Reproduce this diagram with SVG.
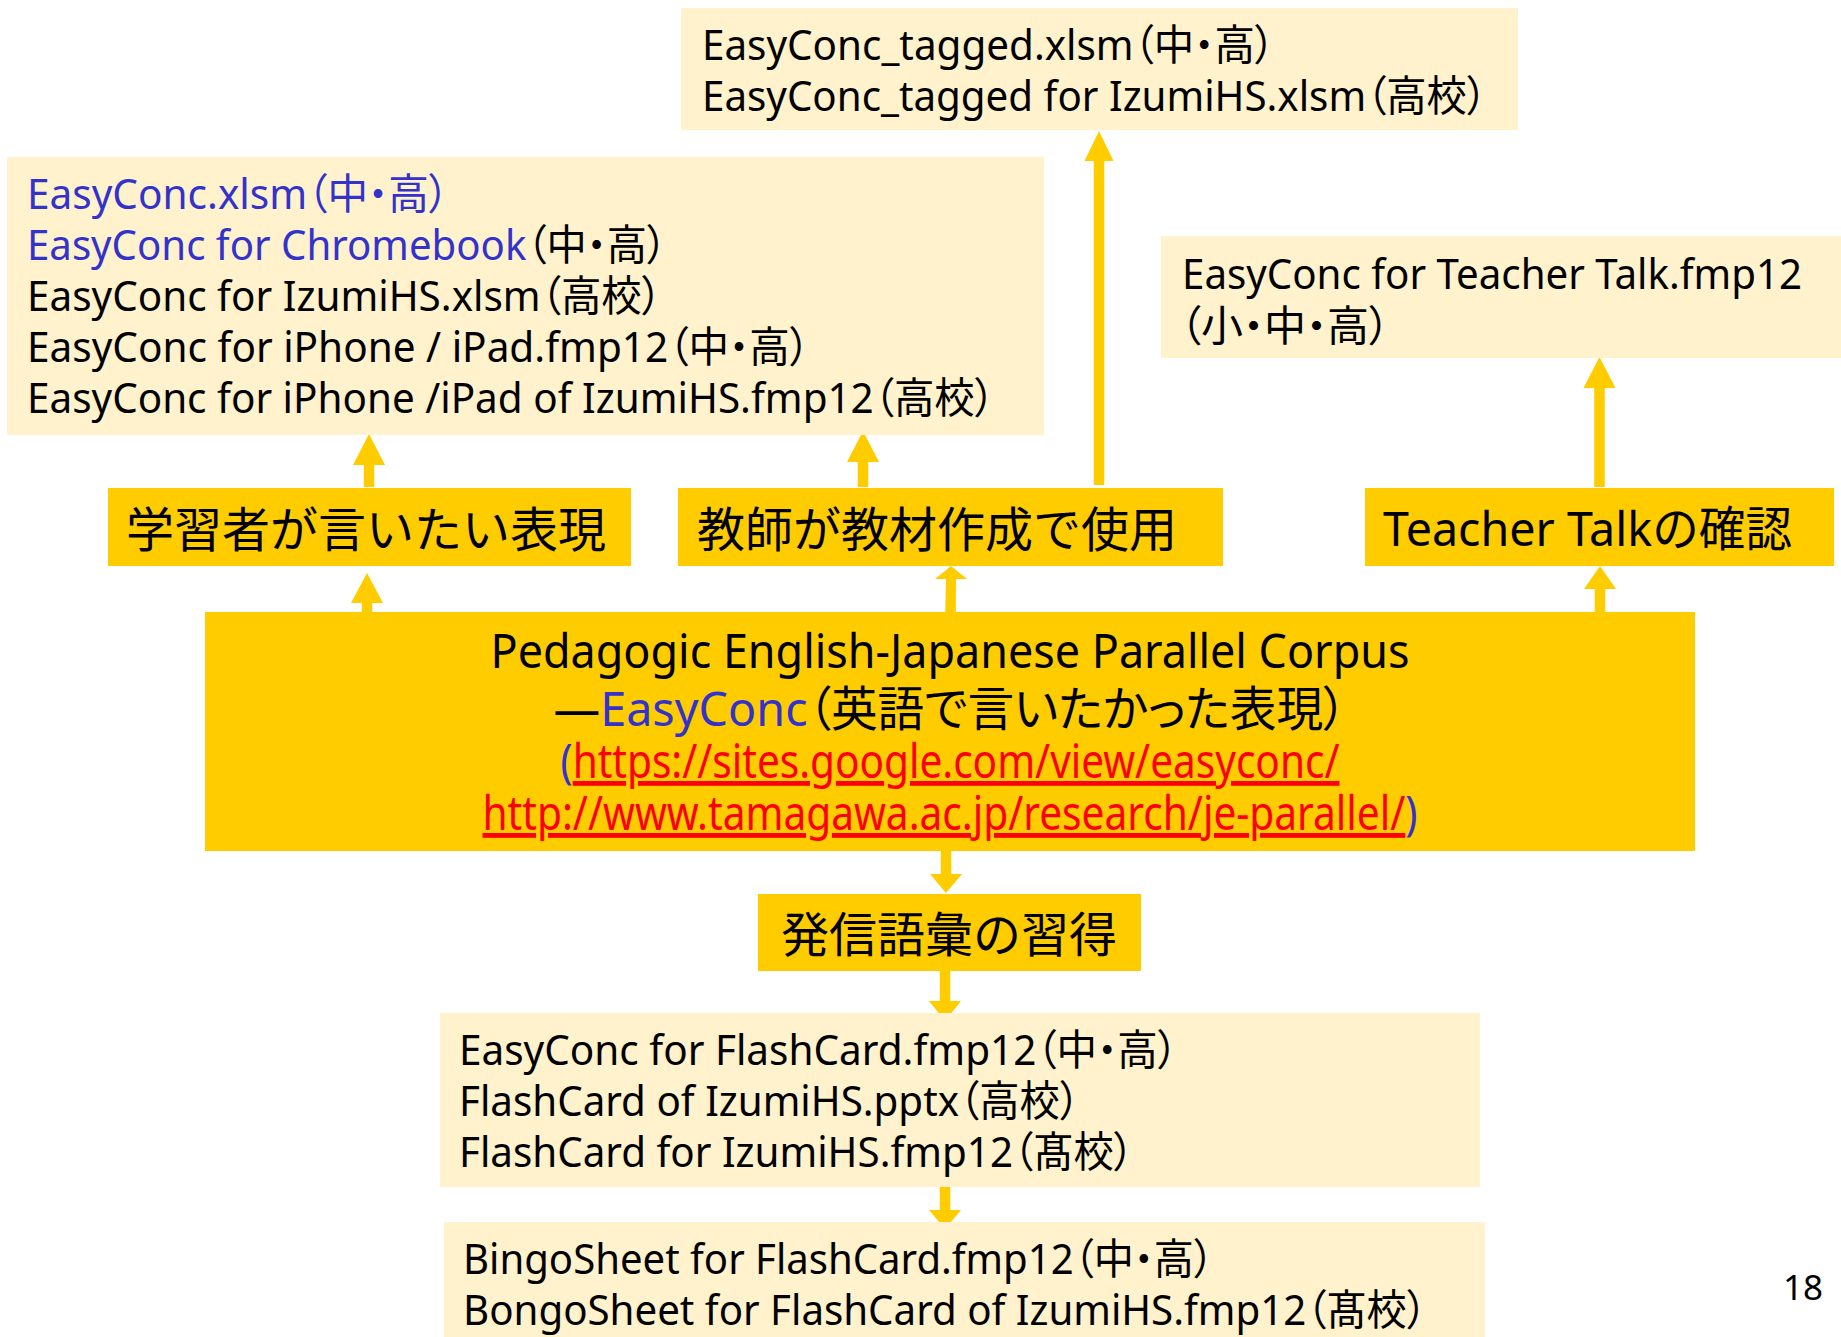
<svg xmlns="http://www.w3.org/2000/svg" width="1841" height="1337" viewBox="0 0 1841 1337">
<style>
.bg{fill:#FFFFFF}
.pale{fill:#FFF2CC}
.gold{fill:#FFCC00}
.arr{fill:#FFCC00}
.t{font-family:"Noto Sans","Noto Sans CJK JP",sans-serif;fill:#000;font-feature-settings:"palt"}
.s{font-size:42.5px}
.m{font-size:48px}
.lab{font-family:"Noto Sans","Noto Sans CJK JP",sans-serif;font-size:48px;fill:#000}
.blue{fill:#3333CC}
.red{fill:#FF0000;text-decoration:underline}
</style>
<rect class="bg" x="0" y="0" width="1841" height="1337"/>
<g id="connectors">
<polygon class="arr" points="369,434 385,465 374.25,465 374.25,487 363.75,487 363.75,465 353,465"/>
<polygon class="arr" points="367,573 383,603 372.25,603 372.25,612 361.75,612 361.75,603 351,603"/>
<polygon class="arr" points="863,431 879,462 868.25,462 868.25,487 857.75,487 857.75,462 847,462"/>
<polygon class="arr" points="1099,131 1113.5,161 1104.25,161 1104.25,485 1093.75,485 1093.75,161 1084.5,161"/>
<polygon class="arr" points="951,566 967,579 956,579 955.75,612 945.25,612 946,579 935,579"/>
<polygon class="arr" points="1599.5,357 1615.5,388 1604.75,388 1604.75,487 1594.25,487 1594.25,388 1583.5,388"/>
<polygon class="arr" points="1600,566 1616,589 1605.25,589 1605.25,612 1594.75,612 1594.75,589 1584,589"/>
<polygon class="arr" points="946,893 962,874 951.25,874 951.25,851 940.75,851 940.75,874 930,874"/>
<polygon class="arr" points="945,1021 961,1001 950.25,1001 950.25,971 939.75,971 939.75,1001 929,1001"/>
<polygon class="arr" points="945,1229 961,1210 950.25,1210 950.25,1183 939.75,1183 939.75,1210 929,1210"/>
</g>
<g id="node-tagged">
<rect class="pale" x="681" y="8" width="837" height="122"/>
<text class="t s" x="702" y="60" textLength="573" lengthAdjust="spacingAndGlyphs">EasyConc_tagged.xlsm（中・高）</text>
<text class="t s" x="702" y="111" textLength="785" lengthAdjust="spacingAndGlyphs">EasyConc_tagged for IzumiHS.xlsm（高校）</text>
</g>
<g id="node-easyconc">
<rect class="pale" x="7" y="157" width="1037" height="278"/>
<text class="t s" x="27" y="209" textLength="422" lengthAdjust="spacingAndGlyphs"><tspan class="blue">EasyConc.xlsm（中・高）</tspan></text>
<text class="t s" x="27" y="260" textLength="640" lengthAdjust="spacingAndGlyphs"><tspan class="blue">EasyConc for Chromebook</tspan>（中・高）</text>
<text class="t s" x="27" y="311" textLength="635" lengthAdjust="spacingAndGlyphs">EasyConc for IzumiHS.xlsm（高校）</text>
<text class="t s" x="27" y="362" textLength="783" lengthAdjust="spacingAndGlyphs">EasyConc for iPhone / iPad.fmp12（中・高）</text>
<text class="t s" x="27" y="413" textLength="968" lengthAdjust="spacingAndGlyphs">EasyConc for iPhone /iPad of IzumiHS.fmp12（高校）</text>
</g>
<g id="node-teachertalk-file">
<rect class="pale" x="1161" y="236" width="680" height="122"/>
<text class="t s" x="1182" y="289" textLength="620" lengthAdjust="spacingAndGlyphs">EasyConc for Teacher Talk.fmp12</text>
<text class="t s" x="1180" y="341" textLength="210" lengthAdjust="spacingAndGlyphs">（小・中・高）</text>
</g>
<g id="node-learner">
<rect class="gold" x="108" y="488" width="523" height="78"/>
<text class="lab" x="126" y="547">学習者が言いたい表現</text>
</g>
<g id="node-teacher">
<rect class="gold" x="678" y="488" width="545" height="78"/>
<text class="lab" x="697" y="547">教師が教材作成で使用</text>
</g>
<g id="node-teachertalk">
<rect class="gold" x="1365" y="488" width="469" height="78"/>
<text class="lab" x="1383" y="546" textLength="409" lengthAdjust="spacingAndGlyphs">Teacher Talkの確認</text>
</g>
<g id="node-corpus">
<rect class="gold" x="205" y="612" width="1490" height="239"/>
<text class="t m" x="950" y="668" text-anchor="middle" textLength="919" lengthAdjust="spacingAndGlyphs">Pedagogic English-Japanese Parallel Corpus</text>
<text class="t m" x="950" y="726" text-anchor="middle" textLength="793" lengthAdjust="spacingAndGlyphs">―<tspan class="blue">EasyConc</tspan>（英語で言いたかった表現）</text>
<text class="t m" x="950" y="778" text-anchor="middle" textLength="779" lengthAdjust="spacingAndGlyphs"><tspan class="blue">(</tspan><tspan class="red">https://sites.google.com/view/easyconc/</tspan></text>
<text class="t m" x="950" y="830" text-anchor="middle" textLength="935" lengthAdjust="spacingAndGlyphs"><tspan class="red">http://www.tamagawa.ac.jp/research/je-parallel/</tspan><tspan class="blue">)</tspan></text>
</g>
<g id="node-vocab">
<rect class="gold" x="758" y="894" width="383" height="77"/>
<text class="lab" x="949" y="952" text-anchor="middle">発信語彙の習得</text>
</g>
<g id="node-flashcard">
<rect class="pale" x="440" y="1013" width="1040" height="174"/>
<text class="t s" x="459" y="1065" textLength="719" lengthAdjust="spacingAndGlyphs">EasyConc for FlashCard.fmp12（中・高）</text>
<text class="t s" x="459" y="1116" textLength="621" lengthAdjust="spacingAndGlyphs">FlashCard of IzumiHS.pptx（高校）</text>
<text class="t s" x="459" y="1167" textLength="675" lengthAdjust="spacingAndGlyphs">FlashCard for IzumiHS.fmp12（髙校）</text>
</g>
<g id="node-bingo">
<rect class="pale" x="444" y="1222" width="1041" height="115"/>
<text class="t s" x="463" y="1274" textLength="751" lengthAdjust="spacingAndGlyphs">BingoSheet for FlashCard.fmp12（中・高）</text>
<text class="t s" x="463" y="1325" textLength="964" lengthAdjust="spacingAndGlyphs">BongoSheet for FlashCard of IzumiHS.fmp12（髙校）</text>
</g>
<text class="t" x="1783" y="1300" font-size="35">18</text>
</svg>
